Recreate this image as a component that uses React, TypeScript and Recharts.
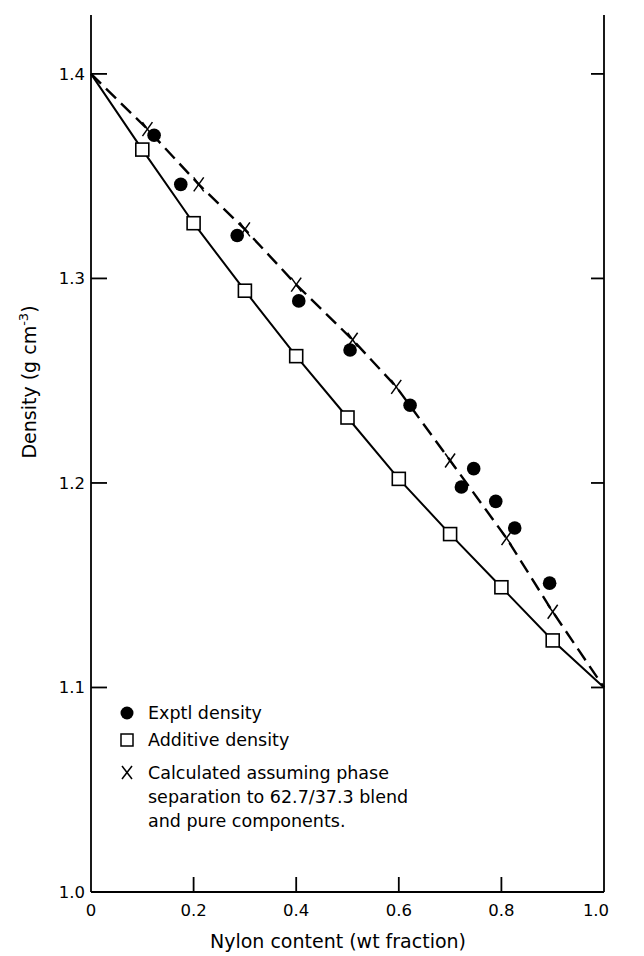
import { ScatterChart, Scatter, XAxis, YAxis } from 'recharts';

// nylon weight fraction / density readings
const additiveX = [0, 0.1, 0.2, 0.3, 0.4, 0.5, 0.6, 0.7, 0.8, 0.9, 1.0];
const additiveY = [1.4, 1.363, 1.327, 1.294, 1.262, 1.232, 1.202, 1.175, 1.149, 1.123, 1.1];

const calcX = [0, 0.11, 0.21, 0.3, 0.4, 0.51, 0.595, 0.7, 0.81, 0.9, 1.0];
const calcY = [1.4, 1.373, 1.346, 1.324, 1.297, 1.27, 1.247, 1.211, 1.173, 1.137, 1.1];

const exptlX = [0.123, 0.175, 0.285, 0.405, 0.505, 0.622, 0.722, 0.746, 0.789, 0.826, 0.894];
const exptlY = [1.37, 1.346, 1.321, 1.289, 1.265, 1.238, 1.198, 1.207, 1.191, 1.178, 1.151];

const xTicks = [0, 0.2, 0.4, 0.6, 0.8, 1.0];
const yTicks = [1.0, 1.1, 1.2, 1.3, 1.4];
const xTickLabels = ['0', '0.2', '0.4', '0.6', '0.8', '1.0'];

const FONT = '"DejaVu Sans", sans-serif';
const FS = 16.5;

const Y_MIN = 1.0;
const Y_MAX = 1.4288;

// plot box (chart margins + axis sizes), used only for the inward tick marks
const LEFT = 91;
const RIGHT = 604;
const TOP = 15;
const BOTTOM = 892;
const px = (v: number) => LEFT + v * (RIGHT - LEFT);
const py = (v: number) => BOTTOM - ((v - Y_MIN) / (Y_MAX - Y_MIN)) * (BOTTOM - TOP);

const zip = (xs: number[], ys: number[]) => xs.map((x, i) => ({ x, y: ys[i] }));
const additive = zip(additiveX, additiveY);
const calc = zip(calcX, calcY);
const exptl = zip(exptlX, exptlY);

const isEnd = (p: any) => p?.x === 0 || p?.x === 1;

const SquareDot = (props: any) => {
  const { cx, cy, payload } = props;
  if (cx == null || isEnd(payload)) return <g />;
  return <rect x={cx - 6.5} y={cy - 6.5} width={13} height={13} fill="#fff" stroke="#000" strokeWidth={1.6} />;
};

const CrossDot = (props: any) => {
  const { cx, cy, payload } = props;
  if (cx == null || isEnd(payload)) return <g />;
  return (
    <g stroke="#000" strokeWidth={1.5}>
      <line x1={cx - 5} y1={cy - 7} x2={cx + 5} y2={cy + 7} />
      <line x1={cx + 5} y1={cy - 7} x2={cx - 5} y2={cy + 7} />
    </g>
  );
};

const CircleDot = (props: any) => {
  const { cx, cy } = props;
  if (cx == null) return <g />;
  return <circle cx={cx} cy={cy} r={6.8} fill="#000" />;
};

const LeftTick = (props: any) => {
  const { x, y, payload } = props;
  return (
    <text x={x - 6} y={y} dy={6} textAnchor="end" fontSize={FS} fontFamily={FONT} fill="#000">
      {payload.value.toFixed(1)}
    </text>
  );
};

const RightTick = (props: any) => {
  const { x, y, payload } = props;
  const v = payload.value;
  return (
    <text x={x + 8} y={y} dy={v > Y_MIN ? 6 : 4} textAnchor="start" fontSize={FS} fontFamily={FONT} fill="#000">
      {v.toFixed(1)}
    </text>
  );
};

const BottomTick = (props: any) => {
  const { x, y, payload, index } = props;
  const dx = payload.value === 1 ? -8 : 0;
  return (
    <text x={x + dx} y={y + 24} textAnchor="middle" fontSize={FS} fontFamily={FONT} fill="#000">
      {xTickLabels[index]}
    </text>
  );
};

const legendRows = [
  { sym: 'circle', text: 'Exptl density', y: 719 },
  { sym: 'square', text: 'Additive density', y: 746 },
  { sym: 'cross', text: 'Calculated assuming phase', y: 779 },
  { sym: '', text: 'separation to 62.7/37.3 blend', y: 803 },
  { sym: '', text: 'and pure components.', y: 827 },
];

const axisLine = { stroke: '#000', strokeWidth: 1.8 };

export default function App() {
  return (
    <div style={{ position: 'absolute', left: 0, top: 0, width: 644, height: 956, background: '#fff' }}>
      <ScatterChart width={644} height={956} margin={{ top: TOP, right: 0, bottom: 0, left: 0 }}>
        <XAxis
          xAxisId="b" dataKey="x" type="number" domain={[0, 1]} ticks={xTicks}
          height={64} axisLine={axisLine}
          tickLine={false} tickSize={0} tickMargin={0} tick={<BottomTick />} interval={0}
        />
        <XAxis
          xAxisId="t" dataKey="x" type="number" orientation="top" domain={[0, 1]} height={0}
          axisLine={axisLine} tick={false} tickLine={false}
        />
        <YAxis
          yAxisId="l" dataKey="y" type="number" domain={[Y_MIN, Y_MAX]} ticks={yTicks}
          width={91} axisLine={axisLine}
          tickLine={false} tickSize={0} tickMargin={0} tick={<LeftTick />} interval={0}
        />
        <YAxis
          yAxisId="r" dataKey="y" type="number" orientation="right" domain={[Y_MIN, Y_MAX]} ticks={yTicks}
          width={40} axisLine={axisLine}
          tickLine={false} tickSize={0} tickMargin={0} tick={<RightTick />} interval={0}
        />
        <Scatter
          xAxisId="b" yAxisId="l" data={additive} isAnimationActive={false}
          line={{ stroke: '#000', strokeWidth: 2 }} lineType="joint" shape={<SquareDot />}
        />
        <Scatter
          xAxisId="b" yAxisId="l" data={calc} isAnimationActive={false}
          line={{ stroke: '#000', strokeWidth: 2.4, strokeDasharray: '14 7' }} lineType="joint" shape={<CrossDot />}
        />
        <Scatter
          xAxisId="b" yAxisId="l" data={exptl} isAnimationActive={false} shape={<CircleDot />}
        />
      </ScatterChart>
      <svg width={644} height={956} style={{ position: 'absolute', left: 0, top: 0, pointerEvents: 'none' }}>
        <g stroke="#000" strokeWidth={1.8}>
          {yTicks.filter((v) => v > Y_MIN).map((v) => (
            <g key={`y${v}`}>
              <line x1={LEFT} y1={py(v)} x2={LEFT + 16} y2={py(v)} />
              <line x1={RIGHT - 13} y1={py(v)} x2={RIGHT} y2={py(v)} />
            </g>
          ))}
          {xTicks.filter((v) => v > 0 && v < 1).map((v) => (
            <line key={`x${v}`} x1={px(v)} y1={BOTTOM} x2={px(v)} y2={BOTTOM - 15} />
          ))}
        </g>
        <text
          transform="translate(36,382) rotate(-90)" textAnchor="middle"
          fontSize={19} fontFamily={FONT} fill="#000"
        >
          Density (g cm<tspan dy={-8} fontSize={13}>-3</tspan><tspan dy={8}>)</tspan>
        </text>
        <text x={338} y={948} textAnchor="middle" fontSize={19} fontFamily={FONT} fill="#000">
          Nylon content (wt fraction)
        </text>
        {legendRows.map((r) => (
          <g key={r.text}>
            {r.sym === 'circle' && <circle cx={127} cy={r.y - 6} r={6.5} fill="#000" />}
            {r.sym === 'square' && (
              <rect x={121} y={r.y - 12} width={12} height={12} fill="#fff" stroke="#000" strokeWidth={1.5} />
            )}
            {r.sym === 'cross' && (
              <g stroke="#000" strokeWidth={1.5}>
                <line x1={122} y1={r.y - 13} x2={132} y2={r.y} />
                <line x1={132} y1={r.y - 13} x2={122} y2={r.y} />
              </g>
            )}
            <text x={148} y={r.y} fontSize={17.5} fontFamily={FONT} fill="#000">{r.text}</text>
          </g>
        ))}
      </svg>
    </div>
  );
}
